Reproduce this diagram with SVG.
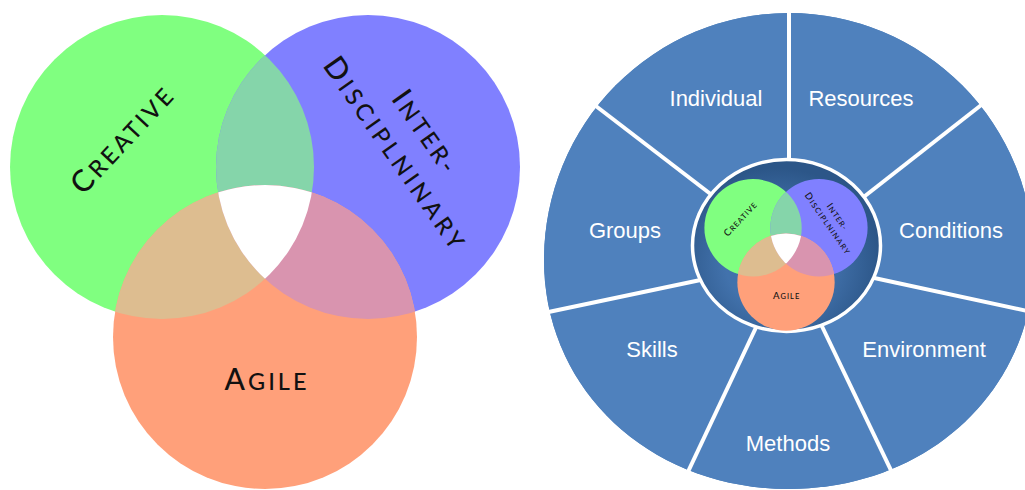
<svg xmlns="http://www.w3.org/2000/svg" xmlns:xlink="http://www.w3.org/1999/xlink" width="1025" height="490" viewBox="0 0 1025 490">
<style>
.vl{font-family:Lato,"Open Sans","Liberation Sans",sans-serif;font-size:30px;fill:#111;letter-spacing:3px;text-anchor:middle;font-weight:500}
.sc{font-size:23.5px;text-transform:uppercase}
.wl{font-family:"Liberation Sans",Arial,sans-serif;font-size:22px;fill:#fff;text-anchor:middle}
.spoke{stroke:#fff;stroke-width:4;fill:none}
.seg{fill:#4F81BD}
</style>
<defs>
<clipPath id="cG"><circle cx="162" cy="167" r="152"/></clipPath>
<clipPath id="cB"><circle cx="368" cy="167" r="152"/></clipPath>
<clipPath id="wheelClip"><path d="M544,260 A245,247 0 0 1 1034,260 C1034,390 928,489 789,489 C650,489 544,390 544,260 Z"/></clipPath>
<radialGradient id="ringG" cx="0.45" cy="0.6" r="0.55">
<stop offset="0.5" stop-color="#4272AC"/>
<stop offset="1" stop-color="#2C5688"/>
</radialGradient>
</defs>

<!-- Left Venn -->
<g id="venn-main">
<g id="node-creative"><circle cx="162" cy="167" r="152" fill="#80FF80"/></g>
<g id="node-interdisciplinary"><circle cx="368" cy="167" r="152" fill="#8080FF"/></g>
<g id="node-agile"><circle cx="265" cy="337" r="152" fill="#FFA07A"/></g>
<g id="overlaps">
<circle cx="368" cy="167" r="152" fill="#85D5AA" clip-path="url(#cG)"/>
<circle cx="265" cy="337" r="152" fill="#DDBD90" clip-path="url(#cG)"/>
<circle cx="265" cy="337" r="152" fill="#D994AF" clip-path="url(#cB)"/>
<g clip-path="url(#cG)"><circle cx="265" cy="337" r="152" fill="#FFFFFF" clip-path="url(#cB)"/></g>
</g>
<g id="labels">
<text class="vl" transform="translate(130,146) rotate(-47)">C<tspan class="sc">reative</tspan></text>
<text class="vl" transform="translate(418,138) rotate(55)">I<tspan class="sc">nter-</tspan></text>
<text class="vl" style="letter-spacing:4px" transform="translate(388,160) rotate(55)">D<tspan class="sc">isciplninary</tspan></text>
<text class="vl" style="letter-spacing:3px" x="267" y="390">A<tspan class="sc">gile</tspan></text>
</g>
</g>

<!-- Right wheel -->
<g id="wheel" clip-path="url(#wheelClip)">
<rect x="540" y="0" width="500" height="490" fill="#4F81BD"/>
<g id="node-individual"><polygon class="seg" points="789,257 371,-65 789,-275"/><text class="wl" x="716" y="106">Individual</text></g>
<g id="node-resources"><polygon class="seg" points="789,257 789,-275 1206,-70"/><text class="wl" x="861" y="106">Resources</text></g>
<g id="node-conditions"><polygon class="seg" points="789,257 1206,-70 1319,372"/><text class="wl" x="951" y="238">Conditions</text></g>
<g id="node-environment"><polygon class="seg" points="789,257 1319,372 1035,767"/><text class="wl" x="924" y="357">Environment</text></g>
<g id="node-methods"><polygon class="seg" points="789,257 1035,767 546,768"/><text class="wl" x="788" y="451">Methods</text></g>
<g id="node-skills"><polygon class="seg" points="789,257 546,768 260,374"/><text class="wl" x="652" y="357">Skills</text></g>
<g id="node-groups"><polygon class="seg" points="789,257 260,374 371,-65"/><text class="wl" x="625" y="238">Groups</text></g>
</g>

<g id="connectors">
<line class="spoke" x1="789" y1="200" x2="789" y2="0"/>
<line class="spoke" x1="856" y1="203" x2="1003" y2="88"/>
<line class="spoke" x1="865" y1="276" x2="1060" y2="318"/>
<line class="spoke" x1="818" y1="318" x2="910" y2="510"/>
<line class="spoke" x1="760" y1="319" x2="670" y2="510"/>
<line class="spoke" x1="710" y1="278" x2="520" y2="318"/>
<line class="spoke" x1="721" y1="202" x2="575" y2="90"/>
</g>

<g id="node-core">
<ellipse cx="786.5" cy="245.5" rx="94" ry="86" fill="url(#ringG)" stroke="#fff" stroke-width="3.5"/>
<use xlink:href="#venn-main" href="#venn-main" transform="translate(786,246) scale(0.32) translate(-265,-224)"/>
</g>
</svg>
